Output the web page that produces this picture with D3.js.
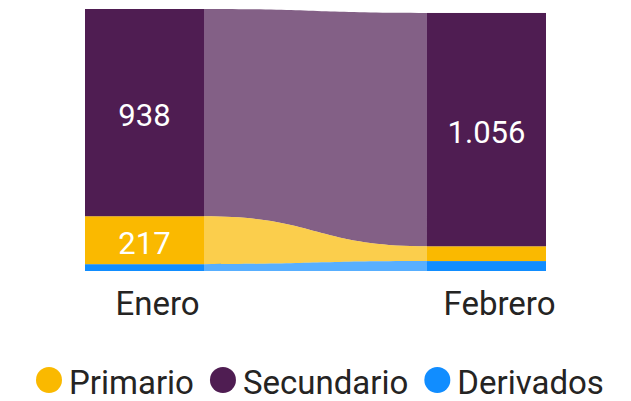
<!DOCTYPE html>
<html>
<head>
<meta charset="utf-8">
<script src="https://cdn.jsdelivr.net/npm/d3@7"></script>
<style>
  html, body { margin: 0; padding: 0; background: #fff; }
  text { font-family: "Segoe UI", Roboto, sans-serif; }
</style>
</head>
<body>
<svg id="chart"></svg>
<script>
// --- Dados ---
const months = ["Enero", "Febrero"];
const seriesNames = ["Primario", "Secundario", "Derivados"];
const primario = [217, 67];
const secundario = [938, 1056];
const derivados = [31, 45];
const seriesColors = ["#FAB900", "#4F1D52", "#118DFF"];

const width = 631, height = 401;
const svg = d3.select("#chart").attr("width", width).attr("height", height);

// tabela para o stack
const table = months.map((m, i) => ({
  month: m,
  Primario: primario[i],
  Secundario: secundario[i],
  Derivados: derivados[i]
}));

// ordem de empilhamento: de baixo para cima
const stackKeys = ["Derivados", "Primario", "Secundario"];
const stacked = d3.stack().keys(stackKeys)(table);

const color = d3.scaleOrdinal().domain(seriesNames).range(seriesColors);

// --- Escalas ---
const x = d3.scaleBand().domain(months).range([85, 546]).paddingInner(0.652).paddingOuter(0);
const y = d3.scaleLinear()
  .domain([0, d3.max(table, d => d.Primario + d.Secundario + d.Derivados)])
  .range([271, 9]);

const fmt = d3.formatLocale({ decimal: ",", thousands: ".", grouping: [3], currency: ["", "€"] }).format(",");

// --- Fitas entre as barras ---
const ribbon = d3.area()
  .x(d => d.x)
  .y0(d => d.y0)
  .y1(d => d.y1)
  .curve(d3.curveBumpX);

const ribbons = svg.append("g");
stacked.slice().reverse().forEach(layer => {
  const a = layer[0], b = layer[1];
  const pts = [
    { x: x(months[0]) + x.bandwidth(), y0: y(a[0]), y1: y(a[1]) },
    { x: x(months[1]), y0: y(b[0]), y1: y(b[1]) }
  ];
  ribbons.append("path")
    .attr("d", ribbon(pts))
    .attr("fill", color(layer.key))
    .attr("fill-opacity", 0.7);
});

// --- Barras ---
const bars = svg.append("g");
stacked.forEach(layer => {
  bars.selectAll(null)
    .data(layer)
    .enter()
    .append("rect")
    .attr("x", d => x(d.data.month))
    .attr("width", x.bandwidth())
    .attr("y", d => y(d[1]))
    .attr("height", d => y(d[0]) - y(d[1]))
    .attr("fill", color(layer.key));

  // rótulos de dados (só onde cabem)
  bars.selectAll(null)
    .data(layer.filter(d => y(d[0]) - y(d[1]) > 30))
    .enter()
    .append("text")
    .attr("x", d => x(d.data.month) + x.bandwidth() / 2)
    .attr("y", d => (y(d[0]) + y(d[1])) / 2 + 3)
    .attr("text-anchor", "middle")
    .attr("dominant-baseline", "central")
    .attr("fill", "#fff")
    .style("font-size", "31px")
    .text(d => fmt(d[1] - d[0]));
});

// --- Eixo X ---
const xAxis = svg.append("g")
  .attr("transform", "translate(0,271)")
  .call(d3.axisBottom(x).tickSize(0).tickPadding(0));
xAxis.select(".domain").remove();
xAxis.selectAll("text")
  .attr("dx", 13)
  .attr("dy", 0)
  .attr("y", 44)
  .attr("fill", "#252423")
  .style("font-size", "33px")
  .style("font-family", "'Segoe UI', Roboto, sans-serif");

// --- Legenda ---
const legend = svg.append("g").attr("transform", "translate(0,380)");
let lx = 36;
seriesNames.forEach(name => {
  const item = legend.append("g").attr("transform", `translate(${lx},0)`);
  item.append("circle").attr("cx", 13).attr("cy", 0).attr("r", 13).attr("fill", color(name));
  const t = item.append("text")
    .attr("x", 33)
    .attr("y", 14)
    .attr("fill", "#252423")
    .style("font-size", "33px")
    .text(name);
  lx += 33 + t.node().getComputedTextLength() + 16;
});
</script>
</body>
</html>
